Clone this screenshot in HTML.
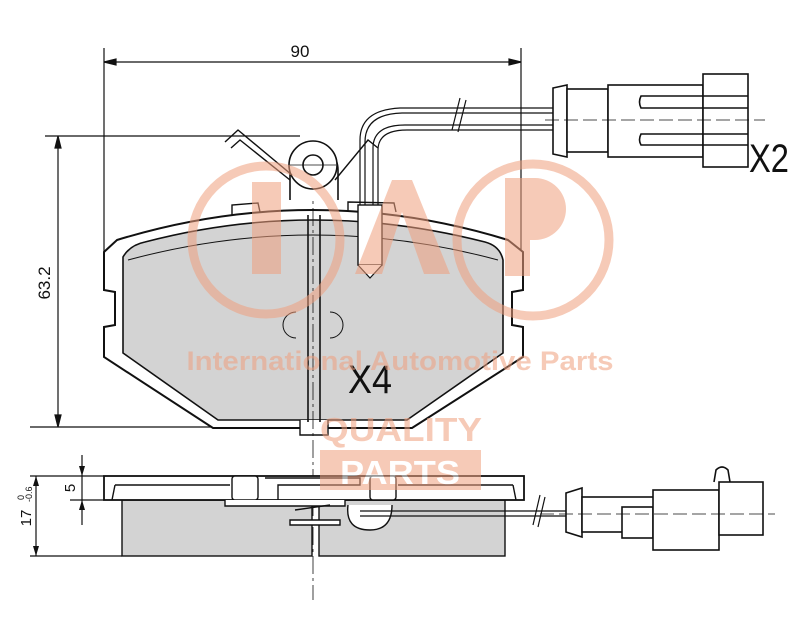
<!DOCTYPE html>
<html><head><meta charset="utf-8"><style>
html,body{margin:0;padding:0;background:#fff;}
svg{display:block;}
text{font-family:"Liberation Sans",sans-serif;}
</style></head><body>
<svg width="800" height="621" viewBox="0 0 800 621" xmlns="http://www.w3.org/2000/svg">
<g fill="none" stroke="#111" stroke-width="1.2">
<!-- dimension 90 -->
<line x1="104" y1="48" x2="104" y2="262"/>
<line x1="521" y1="48" x2="521" y2="250"/>
<line x1="104" y1="62" x2="521" y2="62"/>
<path d="M104 62 l12 -3 v6z M521 62 l-12 -3 v6z" fill="#111"/>
<!-- dimension 63.2 -->
<line x1="45" y1="136" x2="300" y2="136"/>
<line x1="30" y1="427" x2="215" y2="427"/>
<line x1="58" y1="136" x2="58" y2="427"/>
<path d="M58 136 l-3 12 h6z M58 427 l-3 -12 h6z" fill="#111"/>
</g>
<text x="300" y="57" font-size="17" text-anchor="middle" fill="#111">90</text>
<text transform="translate(50,283) rotate(-90)" font-size="17" text-anchor="middle" fill="#111">63.2</text>

<!-- pad front -->
<path d="M117 240 Q313 180 508 240 L523 252 L523 290 L512 292 L512 325 L523 327 L523 357 L412 428 L213 428 L104 357 L104 327 L115 325 L115 292 L104 290 L104 252 Z" fill="#fff" stroke="#111" stroke-width="2"/>
<path d="M123 257 Q130 245 145 242 Q313 198 485 242 Q500 246 503 260 L503 353 L407 420 L218 420 L123 353 Z" fill="#d3d3d3" stroke="#111" stroke-width="1.6"/>
<path d="M128 260 Q313 210 498 260" fill="none" stroke="#111" stroke-width="1"/>
<!-- top tabs -->
<path d="M232 215 L232 205 L258 203 L260 212" fill="none" stroke="#111" stroke-width="1.4"/>
<path d="M348 212 L348 202 L394 203 L396 212" fill="none" stroke="#111" stroke-width="1.4"/>
<!-- bottom tab -->
<path d="M300 420 L300 435 L328 435 L328 420" fill="#fff" stroke="#111" stroke-width="1.4"/>
<!-- center slot -->
<line x1="308" y1="215" x2="308" y2="422" stroke="#111" stroke-width="1.6"/>
<line x1="320" y1="215" x2="320" y2="422" stroke="#111" stroke-width="1.6"/>
<line x1="313" y1="150" x2="313" y2="600" stroke="#111" stroke-width="0.8" stroke-dasharray="18 4 3 4"/>
<!-- wear indicator arcs -->
<path d="M296 312 A10 10 0 1 0 296 338" fill="none" stroke="#111"/>
<path d="M330 312 A10 10 0 1 1 330 338" fill="none" stroke="#111"/>
<!-- pivot -->
<path d="M290 200 L290 170 A24 24 0 0 1 338 170 L338 200" fill="#fff" stroke="#111" stroke-width="1.6"/>
<circle cx="313" cy="165" r="24" fill="#fff" stroke="#111" stroke-width="1.6"/>
<circle cx="313" cy="165" r="10" fill="#fff" stroke="#111" stroke-width="1.6"/>
<line x1="290" y1="165" x2="336" y2="165" stroke="#111" stroke-width="0.8"/>
<!-- spring clip -->
<path d="M225 142 L238 130 L292 175 M231 148 L240 140 L290 180 M335 180 L368 140 L378 148" fill="none" stroke="#111" stroke-width="1.4"/>
<!-- wire -->
<g fill="none" stroke="#111" stroke-width="1.2">
<path d="M360 262 L360 140 Q360 110 400 108 L555 108"/>
<path d="M365 262 L365 142 Q365 114 402 113 L555 113"/>
<path d="M373 262 L373 148 Q373 125 405 125 L555 125"/>
<path d="M378 262 L378 150 Q378 130 407 130 L555 130"/>
<path d="M452 130 L460 98 M458 132 L466 100"/>
</g>
<rect x="358" y="205" width="24" height="60" fill="#fff" stroke="#111" stroke-width="1.4"/>
<path d="M358 265 L370 278 L382 265" fill="#fff" stroke="#111" stroke-width="1.2"/>
<!-- top connector -->
<g fill="#fff" stroke="#111" stroke-width="1.6">
<path d="M553 88 L567 85 L567 157 L553 154 Z"/>
<rect x="567" y="89" width="41" height="63"/>
<rect x="608" y="85" width="95" height="72"/>
<rect x="703" y="74" width="45" height="93"/>
<path d="M748 96 H641 Q638 102 641 108 H748 M748 134 H641 Q638 140 641 145 H748" fill="none"/>
</g>
<line x1="545" y1="120" x2="765" y2="120" stroke="#111" stroke-width="0.8" stroke-dasharray="14 5"/>
<text x="769" y="172" font-size="40" text-anchor="middle" fill="#111" textLength="40" lengthAdjust="spacingAndGlyphs">X2</text>
<text x="370" y="393" font-size="40" text-anchor="middle" fill="#111" textLength="44" lengthAdjust="spacingAndGlyphs">X4</text>

<!-- side view -->
<g stroke="#111" stroke-width="1.4">
<rect x="122" y="500" width="190" height="56" fill="#d3d3d3"/>
<rect x="319" y="500" width="186" height="56" fill="#d3d3d3"/>
<rect x="104" y="476" width="420" height="24" fill="#fff" stroke-width="1.8"/>
<path d="M115 485 L112 500 M115 485 H230 M513 485 L516 500 M513 485 H398" fill="none"/>
<rect x="232" y="476" width="26" height="24" rx="3" fill="#fff"/>
<rect x="370" y="476" width="26" height="24" rx="3" fill="#fff"/>
<path d="M265 478 H360 V485 H278 V500" fill="none"/>
<path d="M225 500 V506 H345 V500" fill="#fff"/>
<path d="M295 510 L330 505 M290 520 H340 V525 H290 Z" fill="#fff"/>
<path d="M348 505 Q345 530 370 530 Q392 530 392 505" fill="#fff"/>
</g>
<g fill="none" stroke="#111" stroke-width="1.2">
<line x1="360" y1="511" x2="566" y2="511"/>
<line x1="360" y1="516" x2="566" y2="516"/>
<path d="M533 525 L540 495 M538 527 L545 497"/>
<line x1="30" y1="476" x2="104" y2="476"/>
<line x1="30" y1="556" x2="122" y2="556"/>
<line x1="70" y1="500" x2="104" y2="500"/>
<line x1="36" y1="476" x2="36" y2="556"/>
<line x1="82" y1="455" x2="82" y2="525"/>
</g>
<path d="M36 476 l-3 10 h6z M36 556 l-3 -10 h6z M82 476 l-3 -10 h6z M82 500 l-3 10 h6z" fill="#111"/>
<text transform="translate(31,518) rotate(-90)" font-size="15" text-anchor="middle" fill="#111">17</text>
<text transform="translate(32,502) rotate(-90)" font-size="9" fill="#111">-0.6</text>
<text transform="translate(24,500) rotate(-90)" font-size="9" fill="#111">0</text>
<text transform="translate(75,488) rotate(-90)" font-size="15" text-anchor="middle" fill="#111">5</text>
<g fill="#fff" stroke="#111" stroke-width="1.6">
<path d="M566 493 L582 488 L582 537 L566 532 Z"/>
<rect x="582" y="497" width="86" height="35"/>
<rect x="622" y="507" width="31" height="31"/>
<rect x="653" y="490" width="66" height="60"/>
<rect x="719" y="482" width="44" height="53"/>
<path d="M714 482 L716 470 Q722 464 728 470 L730 482" fill="none"/>
</g>
<line x1="540" y1="514" x2="775" y2="514" stroke="#111" stroke-width="0.8" stroke-dasharray="14 5"/>

<!-- watermark -->
<g opacity="0.55">
<g fill="none" stroke="#f0a07e" stroke-width="9">
<circle cx="266" cy="240" r="74"/>
<circle cx="533" cy="240" r="76"/>
</g>
<g fill="#f0a07e">
<rect x="252" y="182" width="29" height="92"/>
<path d="M355 274 L392 180 L412 180 L450 274 L424 274 L402 212 L382 274 Z"/>
<path d="M505 178 H535 A30 30 0 0 1 535 240 H530 V276 H505 Z"/>
<text x="400" y="370" font-size="27" font-weight="bold" text-anchor="middle" textLength="427" lengthAdjust="spacingAndGlyphs">International Automotive Parts</text>
<text x="401" y="441" font-size="33" font-weight="bold" text-anchor="middle" textLength="162" lengthAdjust="spacingAndGlyphs">QUALITY</text>
<rect x="320" y="450" width="161" height="40"/>
</g>
<text x="400" y="484" font-size="33" font-weight="bold" text-anchor="middle" fill="#fff" textLength="120" lengthAdjust="spacingAndGlyphs">PARTS</text>
</g>
</svg>
</body></html>
